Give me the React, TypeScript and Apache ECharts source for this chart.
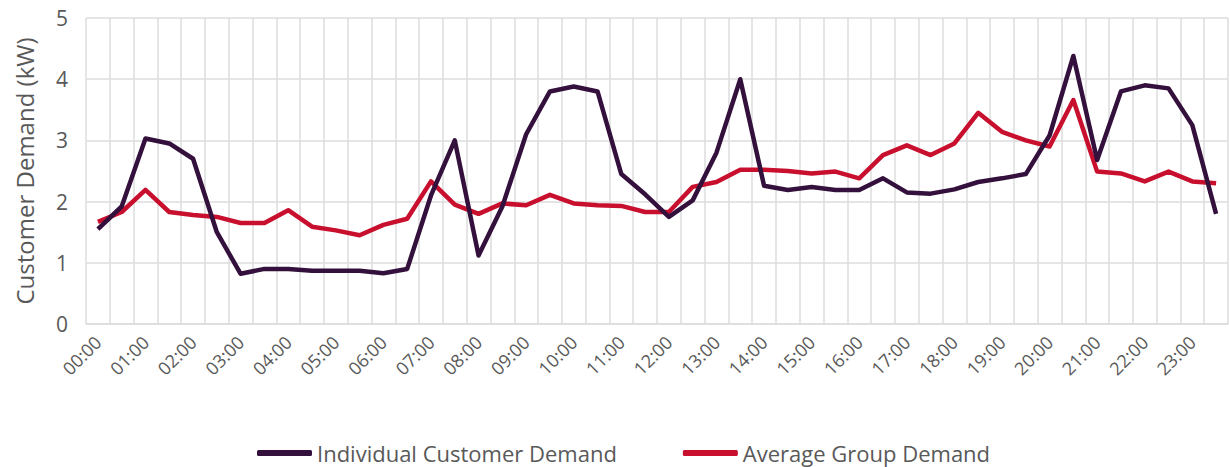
import React, { useEffect, useRef } from "react";
import * as echarts from "echarts";

const times = [
  "00:00","00:30","01:00","01:30","02:00","02:30","03:00","03:30",
  "04:00","04:30","05:00","05:30","06:00","06:30","07:00","07:30",
  "08:00","08:30","09:00","09:30","10:00","10:30","11:00","11:30",
  "12:00","12:30","13:00","13:30","14:00","14:30","15:00","15:30",
  "16:00","16:30","17:00","17:30","18:00","18:30","19:00","19:30",
  "20:00","20:30","21:00","21:30","22:00","22:30","23:00","23:30",
];

const individualDemand = [
  1.55, 1.92, 3.03, 2.95, 2.7, 1.5, 0.82, 0.9, 0.9, 0.87, 0.87, 0.87,
  0.83, 0.9, 2.1, 3.0, 1.12, 1.92, 3.1, 3.8, 3.88, 3.8, 2.45, 2.12,
  1.75, 2.02, 2.8, 4.0, 2.26, 2.19, 2.24, 2.19, 2.19, 2.38, 2.15, 2.13,
  2.2, 2.32, 2.38, 2.45, 3.08, 4.38, 2.68, 3.8, 3.9, 3.85, 3.25, 1.8,
];

const averageDemand = [
  1.67, 1.83, 2.19, 1.83, 1.78, 1.75, 1.65, 1.65, 1.86, 1.59, 1.53, 1.45,
  1.62, 1.72, 2.33, 1.95, 1.8, 1.97, 1.94, 2.11, 1.97, 1.94, 1.93, 1.83,
  1.83, 2.24, 2.32, 2.52, 2.52, 2.5, 2.46, 2.49, 2.38, 2.76, 2.92, 2.76,
  2.95, 3.45, 3.14, 3.0, 2.9, 3.66, 2.49, 2.46, 2.33, 2.49, 2.33, 2.3,
];

const seriesNames = ["Individual Customer Demand", "Average Group Demand"];
const yTitle = "Customer Demand (kW)";

const FONT = "'Open Sans', 'Noto Sans', sans-serif";
const TEXT = "#595959";
const GRID = "#DCDCDC";

export default function App() {
  const ref = useRef<HTMLDivElement>(null);
  useEffect(() => {
    if (!ref.current) return;
    const chart = echarts.init(ref.current, undefined, { renderer: "svg" });
    chart.setOption({
      animation: false,
      backgroundColor: "#ffffff",
      textStyle: { fontFamily: FONT },
      grid: { left: 86, right: 2, top: 18, bottom: 143, containLabel: false },
      legend: {
        bottom: -2,
        left: 252,
        icon: "roundRect",
        itemWidth: 55,
        itemHeight: 6,
        itemGap: 66,
        textStyle: { fontFamily: FONT, fontSize: 22, color: TEXT, padding: [0, 0, 0, 0] },
        data: seriesNames,
      },
      xAxis: {
        type: "category",
        data: times,
        boundaryGap: true,
        axisLine: { show: true, lineStyle: { color: GRID, width: 1.5 } },
        axisTick: { show: false },
        axisLabel: {
          interval: 1,
          rotate: 45,
          margin: 15,
          color: TEXT,
          fontSize: 18,
          fontFamily: FONT,
        },
        splitLine: { show: true, interval: 0, lineStyle: { color: GRID, width: 1.5 } },
      },
      yAxis: {
        type: "value",
        min: 0,
        max: 5,
        interval: 1,
        name: yTitle,
        nameLocation: "middle",
        nameGap: 50,
        nameTextStyle: { color: TEXT, fontSize: 24, fontFamily: FONT },
        axisLine: { show: false },
        axisTick: { show: false },
        axisLabel: { color: TEXT, fontSize: 21, fontFamily: FONT, margin: 18 },
        splitLine: { show: true, lineStyle: { color: GRID, width: 1.5 } },
      },
      series: [
        {
          name: seriesNames[0],
          type: "line",
          data: individualDemand,
          showSymbol: false,
          symbol: "none",
          lineStyle: { color: "#34103D", width: 4.5, join: "round" },
          itemStyle: { color: "#34103D" },
          z: 3,
        },
        {
          name: seriesNames[1],
          type: "line",
          data: averageDemand,
          showSymbol: false,
          symbol: "none",
          lineStyle: { color: "#C8102E", width: 4.5, join: "round" },
          itemStyle: { color: "#C8102E" },
          z: 2,
        },
      ],
    });
    return () => chart.dispose();
  }, []);
  return (
    <div
      ref={ref}
      style={{ position: "fixed", left: 0, top: 0, width: 1230, height: 467 }}
    />
  );
}
